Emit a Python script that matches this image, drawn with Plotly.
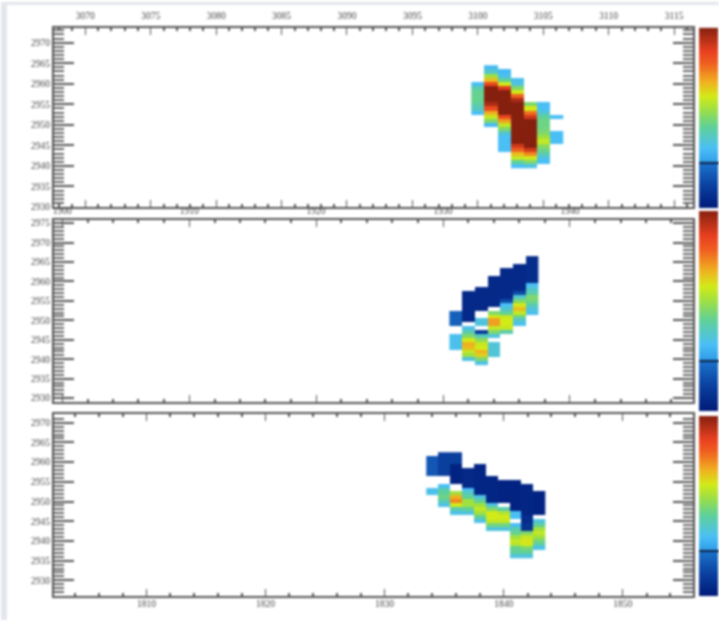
import plotly.graph_objects as go

N = None
TOP_X = [3100, 3101, 3102, 3103, 3104, 3105, 3106]
TOP_Y_START = [2960, 2964, 2963, 2961, 2955, 2955, 2952]
TOP_VALUES = [
    [.33, .42, .46, .46, .46, .44, .4, .33],
    [.32, .38, .55, .68, .85, 1, 1, 1, 1, .95, .85, .7, .6, .5, .32],
    [.32, .34, .45, .62, .88, 1, 1, 1, 1, 1, 1, .85, .72, .6, .5, .38, .33, .33, .33, .33],
    [.34, .36, .5, .62, .8, .95, 1, 1, 1, 1, 1, 1, 1, 1, 1, 1, .9, .8, .68, .6, .45, .33],
    [.5, .62, .78, .9, 1, 1, 1, 1, 1, 1, 1, .9, .75, .62, .5, .35],
    [.33, .33, .38, .45, .47, .47, .48, .5, .55, .6, .52, .47, .42, .35, .33],
    [.33, N, N, N, .33, .33, .33],
]

MID_X = [1931, 1932, 1933, 1934, 1935, 1936, 1937]
MID_Y_START = [2952, 2957, 2958, 2961, 2963, 2964, 2966]
MID_VALUES = [
    [.2, .2, .2, .2, N, N, .34, .34, .34, .34],
    [.05, .05, .05, .05, .05, .05, .05, .05, N, .35, .42, .5, .62, .7, .68, .6, .55, .36],
    [.05, .05, .05, .05, .05, .05, N, N, .36, .36, N, .1, .4, .52, .6, .62, .7, .66, .5, .35],
    [.05, .05, .05, .05, .05, .05, .05, .05, N, .5, .62, .72, .72, .6, .5, .36, N, .37, .37, .37, .37],
    [.05, .05, .05, .05, .05, .05, .05, .05, .15, .33, .38, .45, .6, .62, .62, .6, .42],
    [.05, .05, .05, .05, .05, .05, .05, .15, .38, .5, .62, .68, .6, .48, .38, .34],
    [.06, .06, .06, .06, .06, .06, .06, .33, .38, .42, .5, .48, .42, .36, .34],
]

BOT_X = [1834, 1835, 1836, 1837, 1838, 1839, 1840, 1841, 1842, 1843]
BOT_Y_START = [2961, 2962, 2962, 2958, 2959, 2956, 2955, 2955, 2954, 2952]
BOT_VALUES = [
    [.18, .18, .18, .18, .18, N, N, N, .34, .34],
    [.12, .12, .12, .12, .12, .12, N, N, .33, .42, .45, .47, .42, .35],
    [.12, .12, .12, .03, .03, .03, .03, .03, N, N, .55, .7, .75, .62, .42, .35],
    [.05, .05, .05, .05, .05, .33, .4, .45, .55, .55, .45, .36],
    [.04, .04, .04, .04, .04, .04, .04, .04, .36, .45, .55, .6, .55, .45, .35],
    [.04, .04, .04, .04, .04, .04, .04, .36, .5, .62, .62, .6, .48, .36],
    [.03, .03, .03, .03, .03, .03, N, .42, .58, .62, .6, .48, .36],
    [.03, .03, .03, .03, .03, .03, .03, .03, .33, .33, N, .33, .42, .46, .55, .6, .58, .46, .45, .36],
    [.04, .04, .04, .04, .04, .04, .04, .04, .06, .06, .08, .08, .5, .6, .63, .62, .5, .45, .36],
    [.03, .03, .03, .03, .03, .03, N, .36, .44, .55, .6, .55, .48, .42, .35],
]

COLORSCALE = [
    [0.0, "#001a78"], [0.12, "#0a3f9e"], [0.25, "#1b74cc"], [0.2501, "#2f9ae8"],
    [0.33, "#4abff5"], [0.45, "#60d098"], [0.55, "#a0e040"], [0.62, "#d2ea18"],
    [0.70, "#f0b020"], [0.80, "#f06020"], [0.87, "#e84020"], [1.0, "#85200f"],
]
BAR_LEVELS = [k / 200 for k in range(201)]
BAR_MARK = [0.25]

W, H = 719, 621
LEFT, RIGHT = 53, 693
PANELS = [
    dict(x=TOP_X, ys=TOP_Y_START, v=TOP_VALUES, top=26, bot=206, xr=[3067.6, 3116.45], yr=[2930, 2973.6],
         dx=5, mx=1, side="top", cb=(26, 207), ytick0=2930, so=3),
    dict(x=MID_X, ys=MID_Y_START, v=MID_VALUES, top=219, bot=402, xr=[1899.34, 1949.7], yr=[2929, 2975.8],
         dx=10, mx=2, side="top", cb=(210, 411), ytick0=2930, so=0),
    dict(x=BOT_X, ys=BOT_Y_START, v=BOT_VALUES, top=414, bot=597, xr=[1802.23, 1855.9], yr=[2926, 2972.2],
         dx=10, mx=2, side="bottom", cb=(416, 597), ytick0=2930, so=-3),
]

fig = go.Figure()
LC = "#555555"
FONT = dict(family="Liberation Serif", size=9.5, color="#444444")

for i, p in enumerate(PANELS):
    n = "" if i == 0 else str(i + 1)
    m = str(i + 4)
    y_hi = max(p["ys"])
    y_lo = min(s - len(c) + 1 for s, c in zip(p["ys"], p["v"]))
    rows = list(range(y_lo, y_hi + 1))
    z = [[N] * len(p["x"]) for _ in rows]
    for c, (s, col) in enumerate(zip(p["ys"], p["v"])):
        for k, val in enumerate(col):
            z[s - k - y_lo][c] = val
    fig.add_trace(go.Heatmap(
        x=p["x"], y=rows, z=z, zmin=0, zmax=1, colorscale=COLORSCALE, hoverongaps=False,
        xaxis="x" + n, yaxis="y" + n, showscale=False,
    ))
    fig.add_trace(go.Heatmap(
        x=[0], y=BAR_LEVELS, z=[[v] for v in BAR_LEVELS], zmin=0, zmax=1, colorscale=COLORSCALE,
        xaxis="x" + m, yaxis="y" + m, showscale=False, hoverinfo="skip",
    ))
    fig.update_layout(**{
        "xaxis" + n: dict(
            domain=[LEFT / W, RIGHT / W], range=p["xr"], anchor="y" + n, side=p["side"],
            tick0=0, dtick=p["dx"], ticks="inside", ticklen=7, tickwidth=1, tickcolor=LC,
            minor=dict(dtick=p["mx"], ticks="inside", ticklen=3, tickwidth=2, tickcolor=LC),
            showline=True, linewidth=2, linecolor=LC, mirror="ticks", showgrid=False, zeroline=False,
            tickfont=FONT, tickformat="d", ticklabelstandoff=p["so"],
        ),
        "yaxis" + n: dict(
            domain=[1 - p["bot"] / H, 1 - p["top"] / H], range=p["yr"], anchor="x" + n,
            tick0=p["ytick0"], dtick=5, ticks="inside", ticklen=20, tickwidth=1.6, tickcolor=LC,
            minor=dict(dtick=1, ticks="inside", ticklen=10, tickwidth=1.5, tickcolor="#666666"),
            showline=True, linewidth=2, linecolor=LC, mirror="ticks", showgrid=False, zeroline=False,
            tickfont=FONT, tickformat="d",
        ),
        "xaxis" + m: dict(
            domain=[699 / W, 718 / W], anchor="y" + m, visible=False, fixedrange=True,
        ),
        "yaxis" + m: dict(
            domain=[1 - p["cb"][1] / H, 1 - p["cb"][0] / H], range=[0, 1], anchor="x" + m,
            tickmode="array", tickvals=BAR_MARK, ticks="inside", ticklen=20, tickwidth=1.5,
            tickcolor="#0c2448", showticklabels=False, showgrid=False, zeroline=False, fixedrange=True,
        ),
    })

fig.update_layout(
    width=W, height=625, autosize=False, margin=dict(l=0, r=0, t=0, b=0, pad=0),
    paper_bgcolor="white", plot_bgcolor="white", showlegend=False,
    shapes=[
        dict(type="rect", xref="paper", yref="paper", x0=0, x1=6 / W, y0=0, y1=1,
             fillcolor="#e3e6ec", line_width=0, layer="below"),
        dict(type="rect", xref="paper", yref="paper", x0=0, x1=1, y0=1 - 3 / H, y1=1,
             fillcolor="#e3e6ec", line_width=0, layer="below"),
    ],
)

POST = """
document.body.style.margin='0';
document.body.style.overflow='hidden';
var gd=document.querySelector('.plotly-graph-div');
gd.style.filter='blur(1px)';
"""
fig.write_html("out.html", post_script=POST, config=dict(displayModeBar=False))
